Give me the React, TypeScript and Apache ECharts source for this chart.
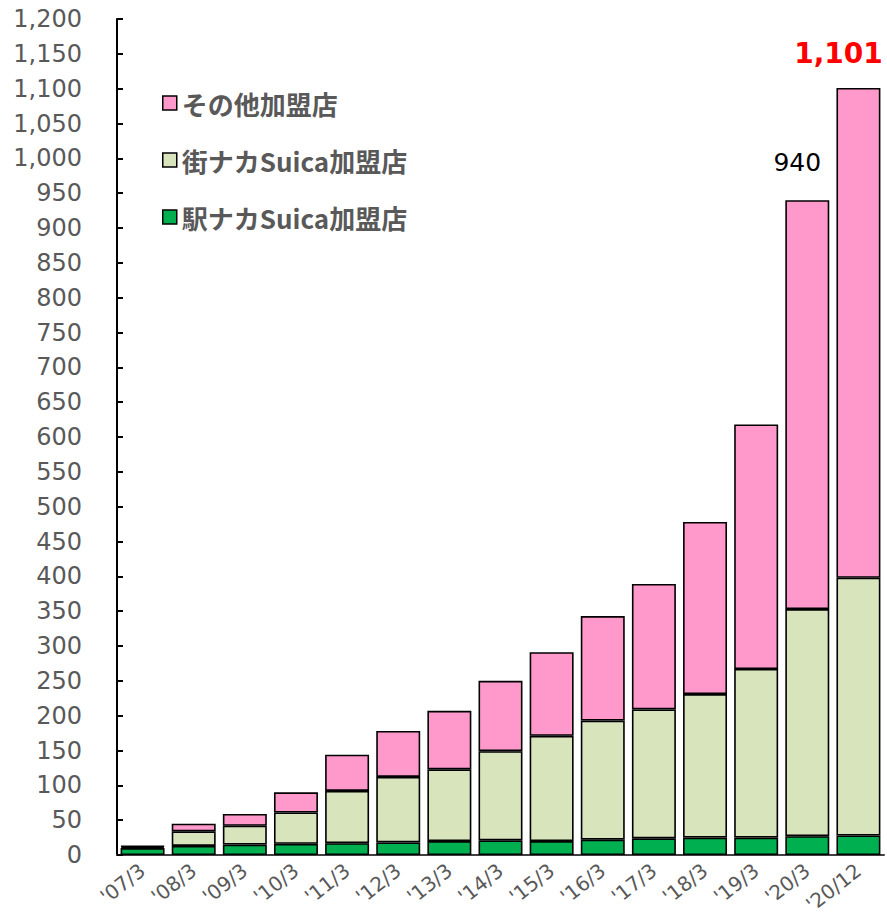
import React, { useEffect, useRef } from "react";
import * as echarts from "echarts";

const categories = ["'07/3", "'08/3", "'09/3", "'10/3", "'11/3", "'12/3", "'13/3", "'14/3", "'15/3", "'16/3", "'17/3", "'18/3", "'19/3", "'20/3", "'20/12"];
const ekinaka = [10, 13, 15, 16, 17, 18, 20, 21, 20, 22, 24, 25, 25, 27, 28];
const machinaka = [2, 21, 27, 45, 75, 94, 103, 128, 151, 171, 185, 206, 242, 326, 370];
const others = [1, 11, 17, 29, 52, 66, 84, 101, 120, 150, 180, 247, 351, 587, 703];
const seriesNames = ["駅ナカSuica加盟店", "街ナカSuica加盟店", "その他加盟店"];

const fmt = (v: number) => String(v).replace(/\B(?=(\d{3})+(?!\d))/g, ",");

export default function App() {
  const ref = useRef<HTMLDivElement>(null);
  useEffect(() => {
    if (!ref.current) return;
    const chart = echarts.init(ref.current, null, { renderer: "svg" });
    const totals = categories.map((_, i) => ekinaka[i] + machinaka[i] + others[i]);
    const n = categories.length;
    const othersData = others.map((v, i) => {
      if (i === n - 2) {
        return {
          value: v,
          label: {
            show: true,
            position: "top",
            offset: [-10, -20],
            formatter: () => fmt(totals[i]),
            color: "#000",
            fontSize: 25,
            fontFamily: "DejaVu Sans",
          },
        };
      }
      if (i === n - 1) {
        return {
          value: v,
          label: {
            show: true,
            position: "top",
            offset: [-20, -15],
            formatter: () => fmt(totals[i]),
            color: "#FF0000",
            fontSize: 28,
            fontWeight: "bold",
            fontFamily: "DejaVu Sans",
          },
        };
      }
      return v;
    });
    const itemBase = { borderColor: "#000", borderWidth: 1.6 };
    chart.setOption({
      animation: false,
      grid: { left: 117, right: 3, top: 19, bottom: 61, containLabel: false, outerBoundsMode: "none" },
      legend: {
        orient: "vertical",
        left: 157,
        top: 85,
        itemWidth: 14,
        itemHeight: 14,
        itemGap: 31,
        icon: "rect",
        data: [seriesNames[2], seriesNames[1], seriesNames[0]],
        itemStyle: { borderColor: "#000", borderWidth: 1.5 },
        textStyle: {
          color: "#595959",
          fontSize: 26,
          lineHeight: 26,
          fontWeight: "bold",
          fontFamily: "'Noto Sans CJK JP'",
          padding: [0, 0, 0, 0],
        },
      },
      xAxis: {
        type: "category",
        data: categories,
        axisLine: { show: true, lineStyle: { color: "#404040", width: 2 } },
        axisTick: { show: false },
        axisLabel: {
          rotate: 38,
          interval: 0,
          margin: 13,
          color: "#595959",
          fontSize: 20,
          fontFamily: "DejaVu Sans",
        },
      },
      yAxis: {
        type: "value",
        min: 0,
        max: 1200,
        interval: 50,
        splitLine: { show: false },
        axisLine: { show: true, lineStyle: { color: "#000", width: 2 } },
        axisTick: { show: true, inside: true, length: 6, lineStyle: { color: "#000", width: 2 } },
        axisLabel: {
          margin: 35,
          color: "#595959",
          fontSize: 24,
          fontFamily: "DejaVu Sans",
          formatter: (v: number) => fmt(v),
        },
      },
      series: [
        {
          name: seriesNames[0],
          type: "bar",
          stack: "total",
          barCategoryGap: "14%",
          data: ekinaka,
          itemStyle: { ...itemBase, color: "#00B050" },
        },
        {
          name: seriesNames[1],
          type: "bar",
          stack: "total",
          barCategoryGap: "14%",
          data: machinaka,
          itemStyle: { ...itemBase, color: "#D8E4BC" },
        },
        {
          name: seriesNames[2],
          type: "bar",
          stack: "total",
          barCategoryGap: "14%",
          data: othersData,
          itemStyle: { ...itemBase, color: "#FF99CC" },
        },
      ],
    });
    return () => chart.dispose();
  }, []);
  return (
    <div
      ref={ref}
      style={{ position: "fixed", left: 0, top: 0, width: 887, height: 916, background: "#fff" }}
    />
  );
}
